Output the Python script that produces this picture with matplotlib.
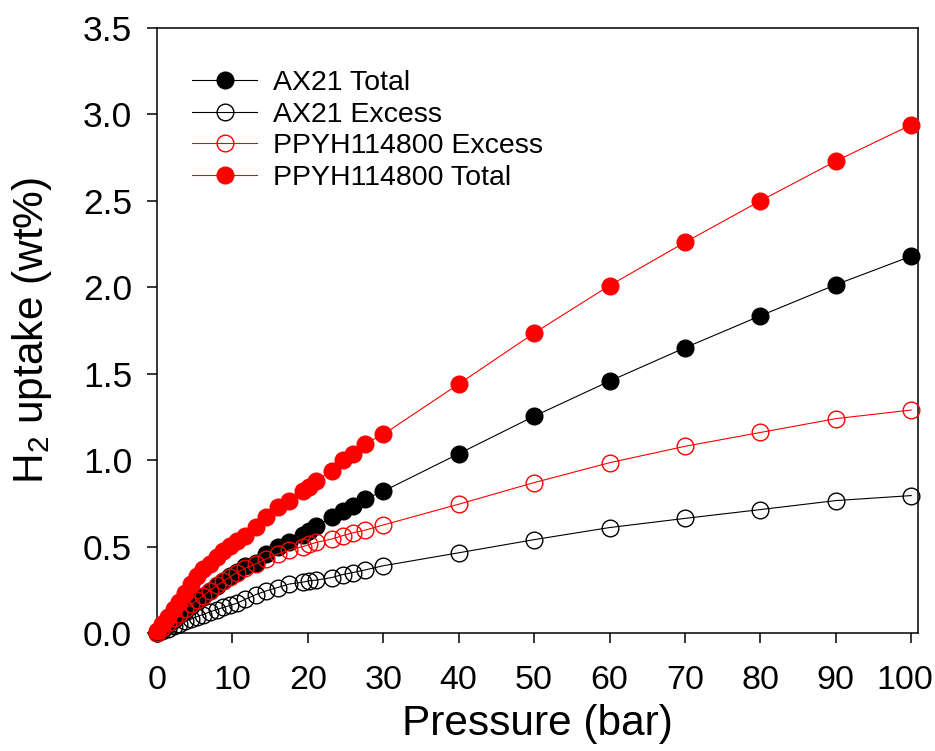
import matplotlib
matplotlib.use('Agg')
import matplotlib.pyplot as plt
import matplotlib.transforms as mtransforms
import numpy as np

plt.rcParams['font.family'] = ['Liberation Sans', 'DejaVu Sans']
plt.rcParams['mathtext.fontset'] = 'custom'
plt.rcParams['mathtext.rm'] = 'Liberation Sans'

# pressure steps of the isotherms (bar)
pressure = [0, 0.7, 1.4, 2.2, 2.9, 3.7, 4.5, 5.3, 6.1, 7.0, 7.9, 8.8, 9.7, 10.6,
            11.7, 13.1, 14.5, 16.0, 17.5, 19.3, 20.2, 21.1, 23.2, 24.6, 26.0,
            27.6, 30, 40, 50, 60, 70, 80, 90, 100]

# hydrogen uptake (wt%)
ax21_total = [0.0, 0.025, 0.05, 0.078, 0.102, 0.13, 0.158, 0.185, 0.212, 0.243,
              0.272, 0.30, 0.328, 0.355, 0.385, 0.405, 0.457, 0.495, 0.528, 0.566,
              0.592, 0.62, 0.669, 0.708, 0.737, 0.776, 0.82, 1.037, 1.254, 1.457,
              1.65, 1.835, 2.015, 2.18]
ax21_excess = [0.0, 0.012, 0.025, 0.04, 0.052, 0.067, 0.08, 0.095, 0.107, 0.122,
               0.135, 0.148, 0.16, 0.172, 0.195, 0.222, 0.244, 0.263, 0.283, 0.294,
               0.302, 0.306, 0.321, 0.338, 0.35, 0.365, 0.389, 0.464, 0.54, 0.61,
               0.663, 0.714, 0.766, 0.795]
ppyh_excess = [0.0, 0.027, 0.055, 0.085, 0.11, 0.14, 0.165, 0.19, 0.215, 0.245,
               0.275, 0.30, 0.325, 0.35, 0.375, 0.40, 0.43, 0.457, 0.48, 0.50,
               0.512, 0.524, 0.544, 0.563, 0.58, 0.595, 0.625, 0.745, 0.87, 0.985,
               1.08, 1.16, 1.24, 1.29]
ppyh_total = [0.01, 0.05, 0.09, 0.137, 0.18, 0.234, 0.283, 0.33, 0.37, 0.40,
              0.437, 0.476, 0.505, 0.534, 0.563, 0.611, 0.673, 0.727, 0.766, 0.824,
              0.843, 0.882, 0.94, 0.998, 1.037, 1.095, 1.149, 1.44, 1.735, 2.01,
              2.26, 2.50, 2.73, 2.94]

fig = plt.figure(figsize=(9.35, 7.51), dpi=100)
ax = fig.add_axes([157/935, 1-633/751, 761/935, 605/751])

ms = 12
ax.plot(pressure, ax21_total, '-o', color='black', lw=0.8, ms=ms,
        mfc='black', mec='black', label='AX21 Total', clip_on=False, zorder=3)
ax.plot(pressure, ax21_excess, '-o', color='black', lw=0.8, ms=ms,
        mfc='none', mec='black', mew=1.0, label='AX21 Excess', clip_on=False, zorder=3)
ax.plot(pressure, ppyh_excess, '-o', color='red', lw=0.8, ms=ms,
        mfc='none', mec='red', mew=1.0, label='PPYH114800 Excess', clip_on=False, zorder=3)
ax.plot(pressure, ppyh_total, '-o', color='red', lw=0.8, ms=ms,
        mfc='red', mec='red', label='PPYH114800 Total', clip_on=False, zorder=4)

ax.set_xlim(0, 100.9)
ax.set_ylim(0, 3.5)
ax.set_xticks(np.arange(0, 101, 10))
ax.set_yticks(np.arange(0, 3.51, 0.5))
ax.set_yticklabels(['%.1f' % v for v in np.arange(0, 3.51, 0.5)])

for s in ax.spines.values():
    s.set_linewidth(1.1)
ax.tick_params(axis='both', direction='out', length=7, width=1.1)
ax.tick_params(axis='y', labelsize=25.5, pad=11)
ax.tick_params(axis='x', labelsize=24.5, pad=16)

# nudge the last x label so it stays inside the figure
last = ax.get_xticklabels()[-1]
last.set_transform(last.get_transform() +
                   mtransforms.ScaledTranslation(-6/100, 0, fig.dpi_scale_trans))

ax.set_xlabel('Pressure (bar)', fontsize=30.5)
ax.set_ylabel(r'H$_\mathregular{2}$ uptake (wt%)', fontsize=30.5)
ax.xaxis.set_label_coords(0.5, -0.118)
ax.yaxis.set_label_coords(-0.136, 0.5)

leg = ax.legend(loc='upper left', bbox_to_anchor=(192/935, 1-70/751),
                bbox_transform=fig.transFigure, frameon=False, fontsize=20.5,
                handlelength=2.3, handletextpad=0.55, labelspacing=0.2,
                borderpad=0, borderaxespad=0)

fig.savefig('out.png', dpi=100)
